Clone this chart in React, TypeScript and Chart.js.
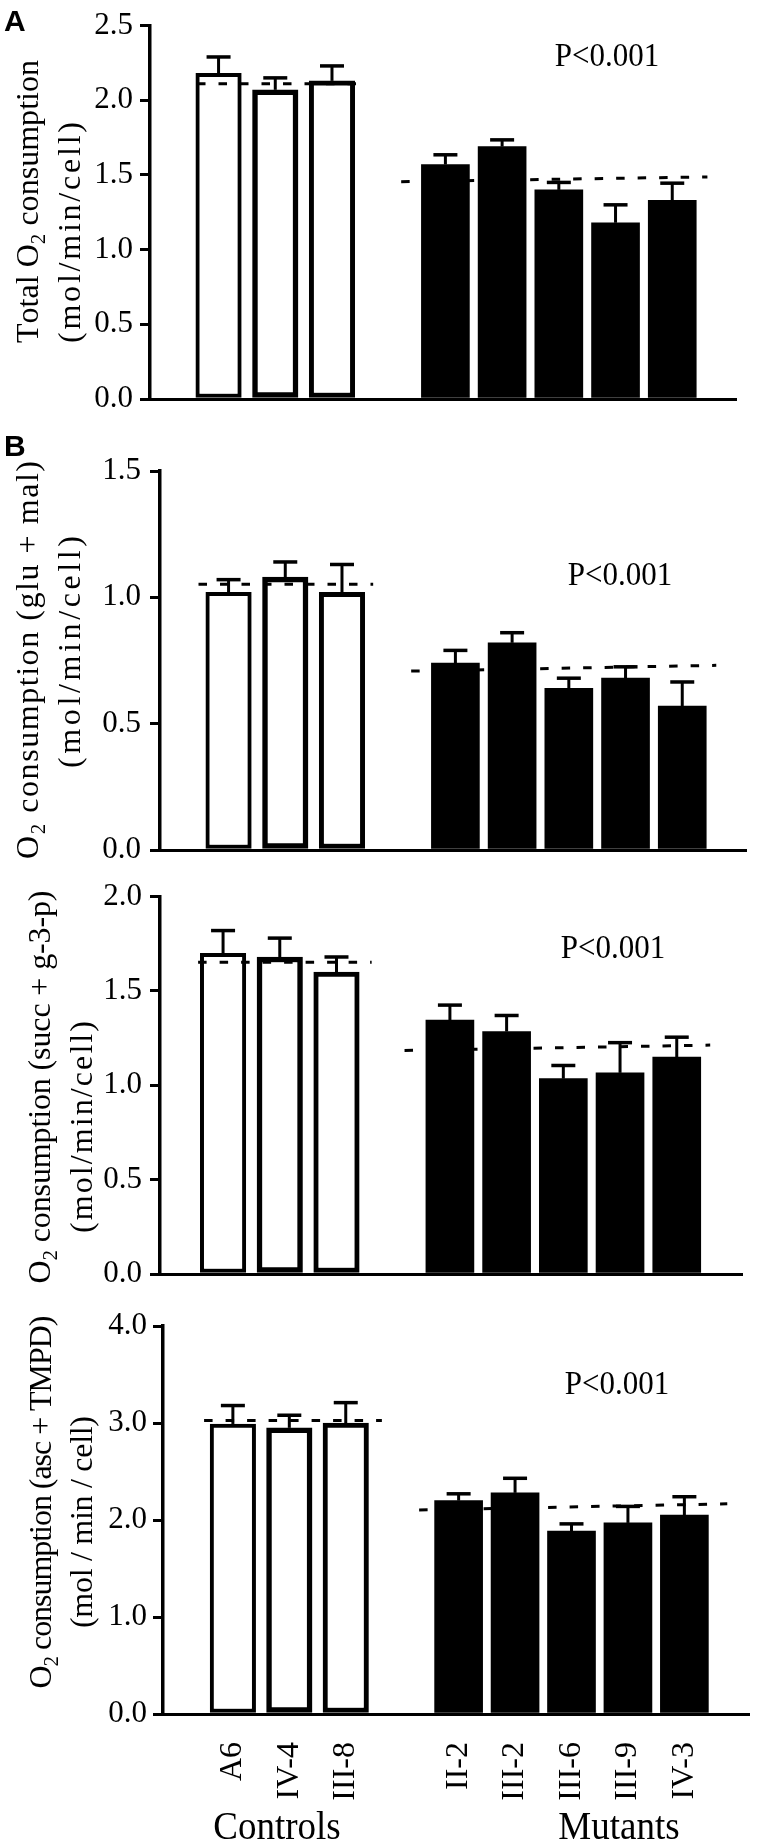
import React, { useEffect, useRef } from 'react';
import { Chart, registerables } from 'chart.js';

Chart.register(...registerables);

const SERIF = '"Liberation Serif", "Times New Roman", Times, serif';
const SANS = '"Liberation Sans", Arial, Helvetica, sans-serif';

// ---------- shared categories ----------
const controlLabels = ['A6', 'IV-4', 'III-8'];
const mutantLabels = ['II-2', 'III-2', 'III-6', 'III-9', 'IV-3'];
const controlPositions = [0, 1, 2];
const mutantPositions = [4, 5, 6, 7, 8];
const groupNames = ['Controls', 'Mutants'];
const pValueText = 'P<0.001';
const unitText = '(mol/min/cell)';
const unitTextSpaced = '(mol / min / cell)';

// ---------- Panel A : total O2 consumption ----------
const totalTicks = [0, 0.5, 1.0, 1.5, 2.0, 2.5];
const totalControls = [2.18, 2.07, 2.13];
const totalControlsSem = [0.11, 0.08, 0.10];
const totalMutants = [1.57, 1.69, 1.40, 1.18, 1.33];
const totalMutantsSem = [0.065, 0.045, 0.05, 0.12, 0.115];
const totalControlMean = [2.11, 2.11];
const totalMutantMean = [1.455, 1.487];

// ---------- Panel B1 : glu + mal ----------
const gluTicks = [0, 0.5, 1.0, 1.5];
const gluControls = [1.02, 1.08, 1.02];
const gluControlsSem = [0.05, 0.06, 0.11];
const gluMutants = [0.74, 0.82, 0.64, 0.68, 0.57];
const gluMutantsSem = [0.05, 0.04, 0.04, 0.045, 0.095];
const gluControlMean = [1.052, 1.052];
const gluMutantMean = [0.708, 0.731];

// ---------- Panel B2 : succ + g-3-p ----------
const succTicks = [0, 0.5, 1.0, 1.5, 2.0];
const succControls = [1.70, 1.68, 1.60];
const succControlsSem = [0.12, 0.10, 0.08];
const succMutants = [1.345, 1.285, 1.035, 1.066, 1.15];
const succMutantsSem = [0.08, 0.085, 0.07, 0.16, 0.105];
const succControlMean = [1.652, 1.652];
const succMutantMean = [1.185, 1.213];

// ---------- Panel B3 : asc + TMPD ----------
const ascTicks = [0, 1.0, 2.0, 3.0, 4.0];
const ascControls = [2.99, 2.95, 3.0];
const ascControlsSem = [0.19, 0.13, 0.21];
const ascMutants = [2.2, 2.28, 1.885, 1.97, 2.05];
const ascMutantsSem = [0.07, 0.15, 0.075, 0.17, 0.19];
const ascControlMean = [3.025, 3.025];
const ascMutantMean = [2.103, 2.167];

type Seg = { t: string; sub?: boolean };
type TextItem = {
  segs: Seg[];
  x: number;
  y: number;
  rot?: boolean;
  size: number;
  family?: string;
  weight?: string;
  align?: 'center' | 'left';
  baseline?: CanvasTextBaseline;
  len?: number; // target length, reached by letter spacing
  sy?: number; // scale perpendicular to reading direction
};

type Frame = {
  top: number;
  height: number;
  axisLeft: number;
  axisTop: number;
  axisBottom: number;
  axisRight: number;
  firstCenter: number;
  lastCenter: number;
  tickPad: number;
  xLabels: boolean;
  controlDash: number[];
  mutantDash: number[];
};

type Panel = {
  id: string;
  ticks: number[];
  controls: number[];
  controlsSem: number[];
  mutants: number[];
  mutantsSem: number[];
  controlMean: number[];
  mutantMean: number[];
  frame: Frame;
  texts: TextItem[];
};

const TITLE = 32;
const TICK = 31;
const PSIZE = 31;

const panels: Panel[] = [
  {
    id: 'A',
    ticks: totalTicks,
    controls: totalControls,
    controlsSem: totalControlsSem,
    mutants: totalMutants,
    mutantsSem: totalMutantsSem,
    controlMean: totalControlMean,
    mutantMean: totalMutantMean,
    frame: {
      top: 0, height: 432, axisLeft: 150, axisTop: 20, axisBottom: 407, axisRight: 736,
      firstCenter: 186.5, lastCenter: 705, tickPad: 7, xLabels: false,
      controlDash: [-0.38, 2.6], mutantDash: [3.22, 8.62],
    },
    texts: [
      { segs: [{ t: 'A' }], x: 4, y: 31, size: 30, family: SANS, weight: 'bold', align: 'left', baseline: 'alphabetic' },
      { segs: [{ t: 'Total O' }, { t: '2', sub: true }, { t: ' consumption' }], x: 30, y: 343, rot: true, align: 'left', size: TITLE, len: 283 },
      { segs: [{ t: unitText }], x: 72, y: 343, rot: true, align: 'left', size: TITLE, len: 221 },
      { segs: [{ t: pValueText }], x: 607, y: 57, size: PSIZE, sy: 1.06 },
    ],
  },
  {
    id: 'B1',
    ticks: gluTicks,
    controls: gluControls,
    controlsSem: gluControlsSem,
    mutants: gluMutants,
    mutantsSem: gluMutantsSem,
    controlMean: gluControlMean,
    mutantMean: gluMutantMean,
    frame: {
      top: 430, height: 453, axisLeft: 160, axisTop: 471, axisBottom: 858, axisRight: 746,
      firstCenter: 196.5, lastCenter: 715, tickPad: 9, xLabels: false,
      controlDash: [-0.53, 2.55], mutantDash: [3.22, 8.6],
    },
    texts: [
      { segs: [{ t: 'B' }], x: 4, y: 456, size: 30, family: SANS, weight: 'bold', align: 'left', baseline: 'alphabetic' },
      { segs: [{ t: 'O' }, { t: '2', sub: true }, { t: ' consumption (glu + mal)' }], x: 30, y: 660, rot: true, size: TITLE, len: 398 },
      { segs: [{ t: unitText }], x: 72, y: 652, rot: true, size: TITLE, len: 232 },
      { segs: [{ t: pValueText }], x: 620, y: 576, size: PSIZE, sy: 1.06 },
    ],
  },
  {
    id: 'B2',
    ticks: succTicks,
    controls: succControls,
    controlsSem: succControlsSem,
    mutants: succMutants,
    mutantsSem: succMutantsSem,
    controlMean: succControlMean,
    mutantMean: succMutantMean,
    frame: {
      top: 870, height: 437, axisLeft: 160, axisTop: 895, axisBottom: 1282, axisRight: 742,
      firstCenter: 190.5, lastCenter: 709, tickPad: 8, xLabels: false,
      controlDash: [-0.44, 2.62], mutantDash: [3.2, 8.59],
    },
    texts: [
      { segs: [{ t: 'O' }, { t: '2', sub: true }, { t: ' consumption (succ + g-3-p)' }], x: 42, y: 1087, rot: true, size: TITLE, len: 393 },
      { segs: [{ t: unitText }], x: 84, y: 1127, rot: true, size: TITLE, len: 212 },
      { segs: [{ t: pValueText }], x: 613, y: 949, size: PSIZE, sy: 1.06 },
    ],
  },
  {
    id: 'B3',
    ticks: ascTicks,
    controls: ascControls,
    controlsSem: ascControlsSem,
    mutants: ascMutants,
    mutantsSem: ascMutantsSem,
    controlMean: ascControlMean,
    mutantMean: ascMutantMean,
    frame: {
      top: 1300, height: 542, axisLeft: 163, axisTop: 1326, axisBottom: 1714, axisRight: 749,
      firstCenter: 201, lastCenter: 717, tickPad: 6, xLabels: true,
      controlDash: [-0.51, 2.64], mutantDash: [3.3, 8.76],
    },
    texts: [
      { segs: [{ t: 'O' }, { t: '2', sub: true }, { t: ' consumption (asc + TMPD)' }], x: 43, y: 1502, rot: true, size: TITLE, len: 373 },
      { segs: [{ t: unitTextSpaced }], x: 84, y: 1522, rot: true, size: TITLE, len: 212 },
      { segs: [{ t: pValueText }], x: 617, y: 1385, size: PSIZE, sy: 1.06 },
      { segs: [{ t: groupNames[0] }], x: 277, y: 1839, size: 37, baseline: 'alphabetic', sy: 1.08 },
      { segs: [{ t: groupNames[1] }], x: 619, y: 1839, size: 37, baseline: 'alphabetic', sy: 1.08 },
    ],
  },
];

function drawText(ctx: CanvasRenderingContext2D, item: TextItem, offsetY: number) {
  const fam = item.family ?? SERIF;
  const weight = item.weight ?? 'normal';
  const mainFont = `${weight} ${item.size}px ${fam}`;
  const subFont = `${weight} ${Math.round(item.size * 0.66)}px ${fam}`;
  ctx.save();
  ctx.translate(item.x, item.y - offsetY);
  if (item.rot) ctx.rotate(-Math.PI / 2);
  if (item.sy) ctx.scale(1, item.sy);
  // split into characters so that letter spacing can be applied
  const chars: { c: string; sub: boolean; w: number }[] = [];
  let natural = 0;
  item.segs.forEach((s) => {
    ctx.font = s.sub ? subFont : mainFont;
    for (const c of s.t) {
      const w = ctx.measureText(c).width;
      chars.push({ c, sub: !!s.sub, w });
      natural += w;
    }
  });
  const gaps = Math.max(chars.length - 1, 1);
  const spacing = item.len ? (item.len - natural) / gaps : 0;
  const total = natural + spacing * gaps;
  let cx = item.align === 'left' ? 0 : -total / 2;
  ctx.textBaseline = item.baseline ?? 'middle';
  ctx.textAlign = 'left';
  ctx.fillStyle = '#000';
  chars.forEach((ch) => {
    ctx.font = ch.sub ? subFont : mainFont;
    ctx.fillText(ch.c, cx, ch.sub ? item.size * 0.3 : 0);
    cx += ch.w + spacing;
  });
  ctx.restore();
}

function makePlugin(p: Panel) {
  return {
    id: 'panelExtras' + p.id,
    afterDatasetsDraw(chart: any) {
      const ctx: CanvasRenderingContext2D = chart.ctx;
      const xs = chart.scales.x;
      const ys = chart.scales.y;
      ctx.save();
      ctx.strokeStyle = '#000';
      ctx.lineCap = 'butt';
      const vals = [p.controls, p.mutants];
      const sems = [p.controlsSem, p.mutantsSem];
      [0, 1].forEach((d) => {
        const meta = chart.getDatasetMeta(d);
        meta.data.forEach((el: any, i: number) => {
          const v = vals[d][i];
          const e = sems[d][i];
          const yTop = ys.getPixelForValue(v);
          const yCap = ys.getPixelForValue(v + e);
          ctx.lineWidth = 3;
          ctx.beginPath();
          ctx.moveTo(el.x, yTop);
          ctx.lineTo(el.x, yCap);
          ctx.stroke();
          ctx.lineWidth = 3.5;
          ctx.beginPath();
          ctx.moveTo(el.x - 12, yCap);
          ctx.lineTo(el.x + 12, yCap);
          ctx.stroke();
        });
      });
      ctx.setLineDash([8.5, 13]);
      ctx.lineWidth = 3;
      const dash = (range: number[], mean: number[]) => {
        ctx.beginPath();
        ctx.moveTo(xs.getPixelForValue(range[0]), ys.getPixelForValue(mean[0]));
        ctx.lineTo(xs.getPixelForValue(range[1]), ys.getPixelForValue(mean[1]));
        ctx.stroke();
      };
      dash(p.frame.controlDash, p.controlMean);
      dash(p.frame.mutantDash, p.mutantMean);
      ctx.restore();
    },
    afterDraw(chart: any) {
      const ctx: CanvasRenderingContext2D = chart.ctx;
      p.texts.forEach((t) => drawText(ctx, t, p.frame.top));
    },
  };
}

function buildConfig(p: Panel): any {
  const f = p.frame;
  const unit = (f.lastCenter - f.firstCenter) / 8;
  const xMin = (f.axisLeft - f.firstCenter) / unit;
  const xMax = (f.axisRight - f.firstCenter) / unit;
  const allLabels = [...controlLabels, '', ...mutantLabels];
  const xTickPositions = [...controlPositions, ...mutantPositions];
  return {
    type: 'bar',
    data: {
      datasets: [
        {
          label: groupNames[0],
          data: controlPositions.map((x, i) => ({ x, y: p.controls[i] })),
          backgroundColor: '#ffffff',
          borderColor: '#000000',
          borderWidth: [4, 5.5, 5],
          borderSkipped: false,
          barThickness: 45.5,
          grouped: false,
        },
        {
          label: groupNames[1],
          data: mutantPositions.map((x, i) => ({ x, y: p.mutants[i] })),
          backgroundColor: '#000000',
          borderWidth: 0,
          barThickness: 48,
          grouped: false,
        },
      ],
    },
    options: {
      responsive: false,
      maintainAspectRatio: false,
      animation: false,
      devicePixelRatio: 1,
      events: [],
      layout: {
        padding: {
          left: 0,
          right: 766 - f.axisRight,
          top: f.axisTop - f.top,
          bottom: f.xLabels ? 0 : f.top + f.height - f.axisBottom,
        },
      },
      plugins: {
        legend: { display: false },
        tooltip: { enabled: false },
        title: { display: false },
      },
      scales: {
        x: {
          type: 'linear',
          min: xMin,
          max: xMax,
          grid: { display: false },
          border: { display: true, color: '#000', width: 3 },
          ticks: f.xLabels
            ? {
                display: true,
                autoSkip: false,
                minRotation: 90,
                maxRotation: 90,
                padding: 20,
                color: '#000',
                font: { family: SERIF, size: 32 },
                callback: (v: number) => allLabels[Math.round(v)] ?? '',
              }
            : { display: false },
          afterBuildTicks: (s: any) => {
            s.ticks = xTickPositions.map((v) => ({ value: v }));
          },
          afterFit: f.xLabels
            ? (s: any) => {
                s.height = f.top + f.height - f.axisBottom;
              }
            : undefined,
        },
        y: {
          type: 'linear',
          min: 0,
          max: p.ticks[p.ticks.length - 1],
          ticks: {
            color: '#000',
            padding: f.tickPad,
            font: { family: SERIF, size: TICK },
            callback: (v: number) => Number(v).toFixed(1),
          },
          afterBuildTicks: (s: any) => {
            s.ticks = p.ticks.map((v) => ({ value: v }));
          },
          grid: {
            drawOnChartArea: false,
            drawTicks: true,
            tickLength: 10,
            color: '#000',
            lineWidth: 3,
          },
          border: { display: true, color: '#000', width: 3.5 },
          afterFit: (s: any) => {
            s.width = f.axisLeft;
          },
        },
      },
    },
    plugins: [makePlugin(p)],
  };
}

export default function App() {
  const refs = useRef<(HTMLCanvasElement | null)[]>([]);
  useEffect(() => {
    const charts = panels.map((p, i) => new Chart(refs.current[i] as HTMLCanvasElement, buildConfig(p)));
    return () => charts.forEach((c) => c.destroy());
  }, []);
  return (
    <div style={{ position: 'absolute', left: 0, top: 0, width: 766, height: 1842, background: '#fff', overflow: 'hidden' }}>
      {panels.map((p, i) => (
        <canvas
          key={p.id}
          ref={(el) => {
            refs.current[i] = el;
          }}
          width={766}
          height={p.frame.height}
          style={{ position: 'absolute', left: 0, top: p.frame.top, width: 766, height: p.frame.height }}
        />
      ))}
    </div>
  );
}
